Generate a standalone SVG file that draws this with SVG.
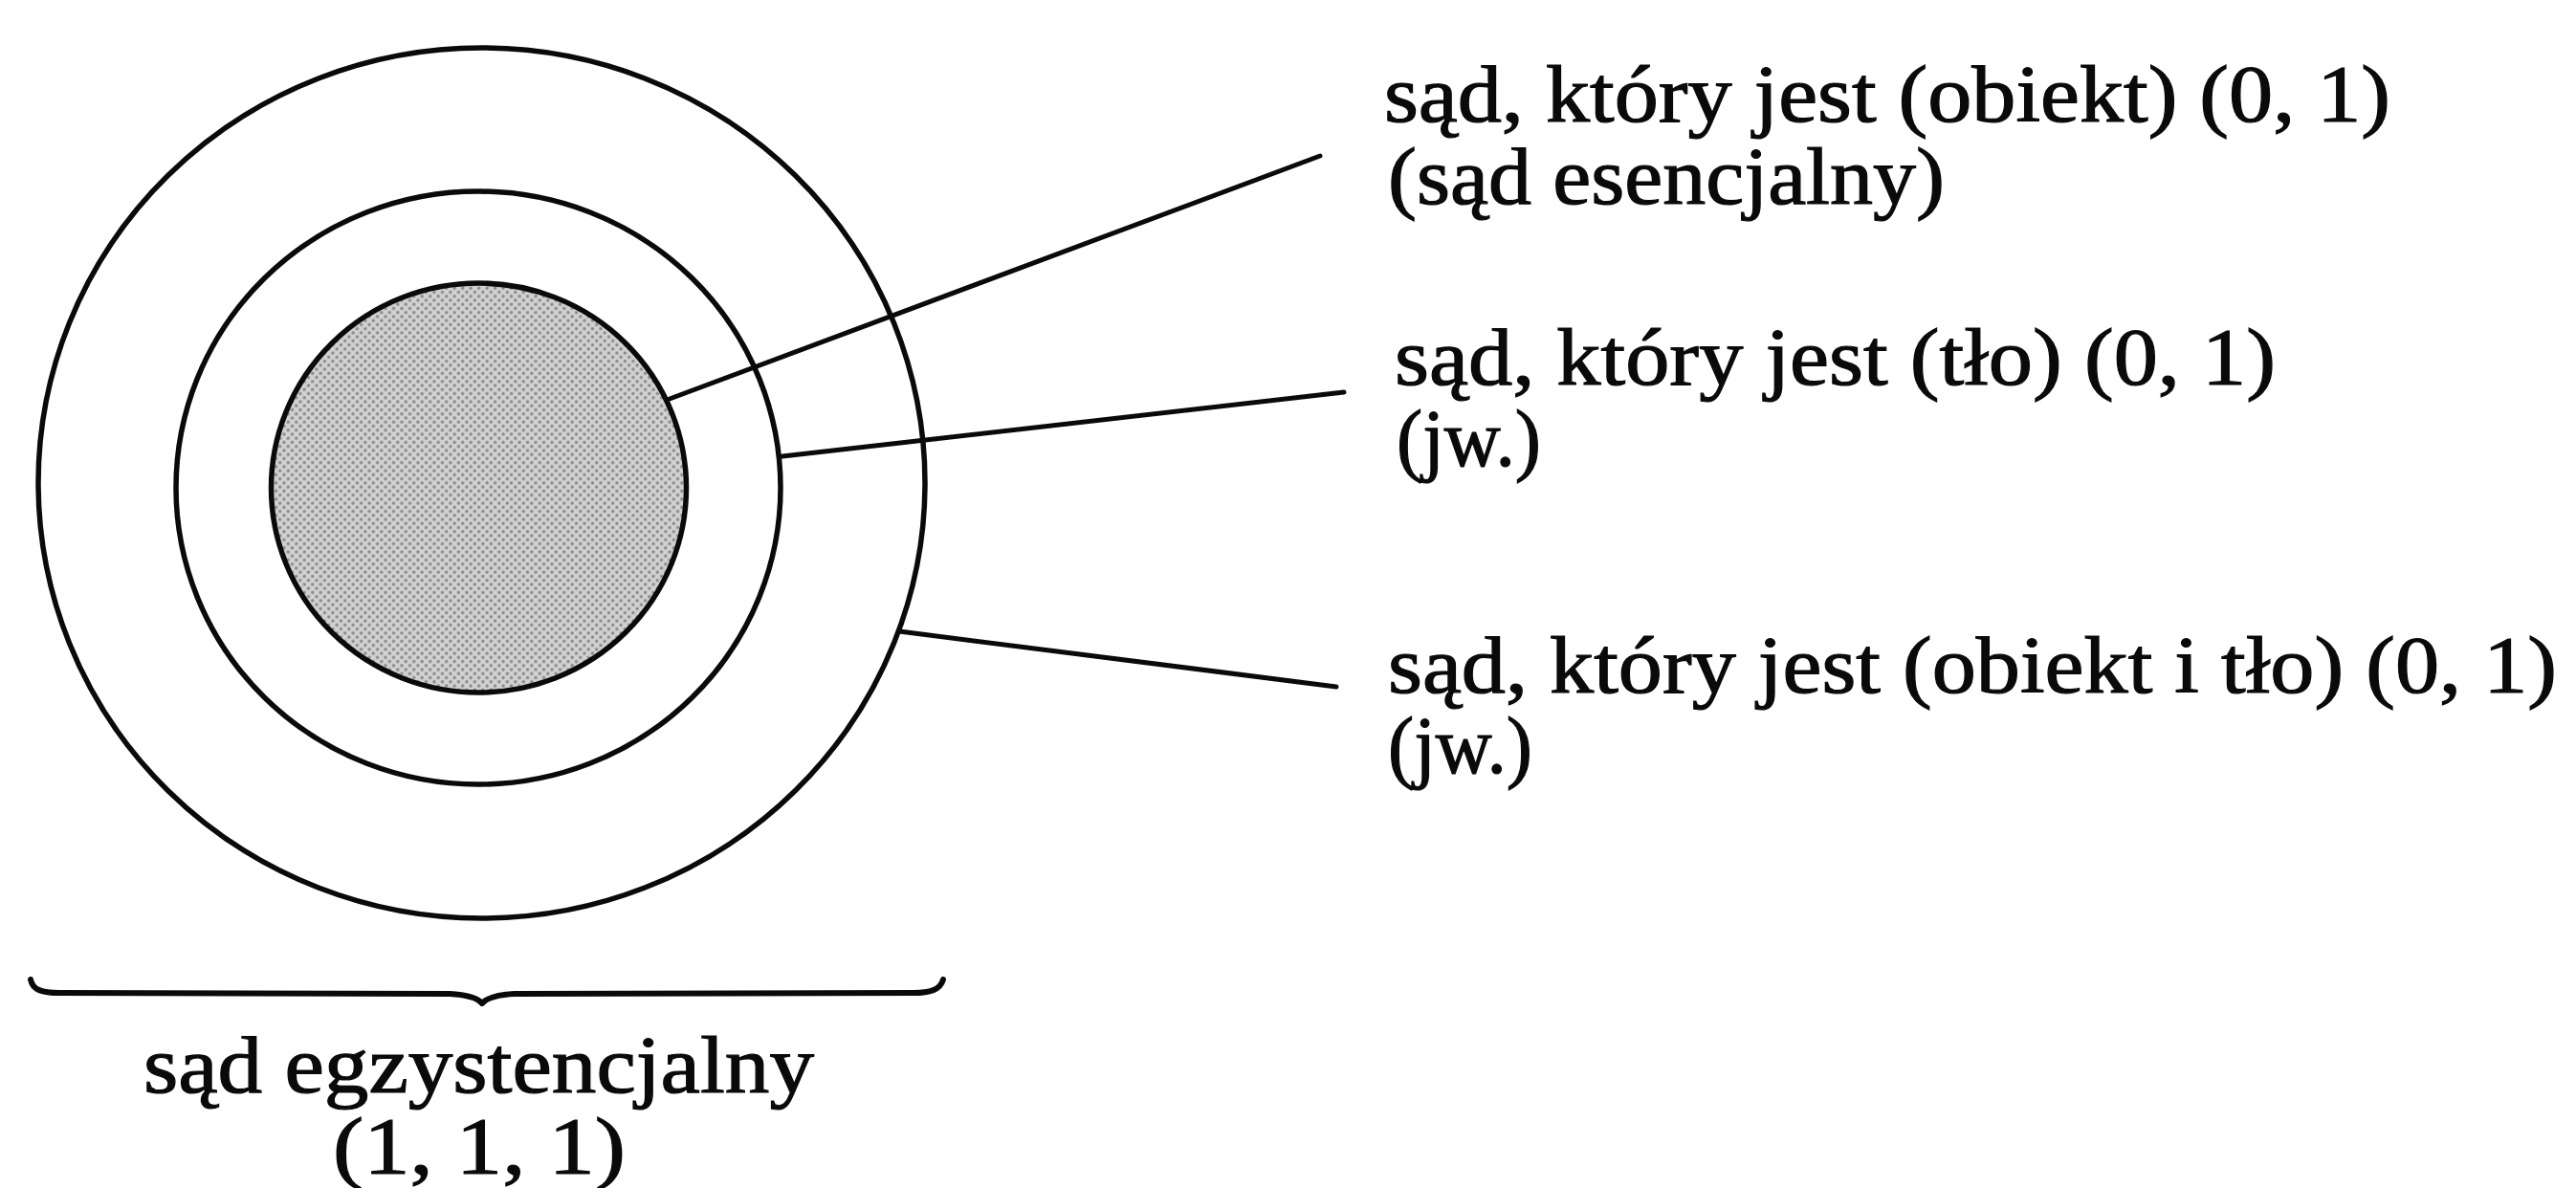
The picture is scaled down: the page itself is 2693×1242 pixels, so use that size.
<svg xmlns="http://www.w3.org/2000/svg" width="2693" height="1242" viewBox="0 0 2693 1242">
  <style>
    .ring { fill: none; stroke: #0a0a0a; stroke-width: 5.5; }
    .core { stroke: #0a0a0a; stroke-width: 5.5; }
    .conn { stroke: #0a0a0a; stroke-width: 5; stroke-linecap: round; fill: none; }
    .lbl { font-family: "Liberation Serif", "DejaVu Serif", serif; font-size: 84px; fill: #0a0a0a; stroke: #0a0a0a; stroke-width: 1.2; }
  </style>
  <defs>
    <pattern id="halftone" width="6" height="6" patternUnits="userSpaceOnUse" patternTransform="rotate(45)">
      <rect width="6" height="6" fill="#d2d2d2"/>
      <circle cx="3" cy="3" r="1.7" fill="#858585"/>
    </pattern>
  </defs>
  <rect width="2693" height="1242" fill="#ffffff"/>

  <g id="outer-ring">
    <ellipse class="ring" cx="503.5" cy="505" rx="463.5" ry="455"/>
  </g>
  <g id="middle-ring">
    <ellipse class="ring" cx="500" cy="510" rx="316" ry="310"/>
  </g>
  <g id="core">
    <ellipse class="core" cx="500.5" cy="510" rx="217" ry="214" fill="url(#halftone)"/>
  </g>

  <g id="connectors">
    <line class="conn" x1="700" y1="417" x2="1380" y2="163"/>
    <line class="conn" x1="818" y1="477" x2="1405" y2="410"/>
    <line class="conn" x1="940" y1="660" x2="1397" y2="718"/>
  </g>

  <g id="label-object">
    <text class="lbl" x="1447" y="127" textLength="1052" lengthAdjust="spacingAndGlyphs">sąd, który jest (obiekt) (0, 1)</text>
    <text class="lbl" x="1451" y="213" textLength="582" lengthAdjust="spacingAndGlyphs">(sąd esencjalny)</text>
  </g>
  <g id="label-background">
    <text class="lbl" x="1458" y="402" textLength="921" lengthAdjust="spacingAndGlyphs">sąd, który jest (tło) (0, 1)</text>
    <text class="lbl" x="1460" y="487" textLength="151" lengthAdjust="spacingAndGlyphs">(jw.)</text>
  </g>
  <g id="label-both">
    <text class="lbl" x="1451" y="724" textLength="1222" lengthAdjust="spacingAndGlyphs">sąd, który jest (obiekt i tło) (0, 1)</text>
    <text class="lbl" x="1451" y="808" textLength="151" lengthAdjust="spacingAndGlyphs">(jw.)</text>
  </g>

  <g id="brace">
    <path d="M 32,1024 C 34,1035 44,1038 62,1038 L 470,1039 C 489,1040 499,1043 504,1049 C 509,1043 519,1040 538,1039 L 955,1038 C 972,1038 983,1035 986,1024" fill="none" stroke="#0a0a0a" stroke-width="6" stroke-linejoin="round" stroke-linecap="round"/>
  </g>
  <g id="label-existential">
    <text class="lbl" x="150" y="1142" textLength="701" lengthAdjust="spacingAndGlyphs">sąd egzystencjalny</text>
    <text class="lbl" x="348" y="1227" textLength="306" lengthAdjust="spacingAndGlyphs">(1, 1, 1)</text>
  </g>
</svg>
